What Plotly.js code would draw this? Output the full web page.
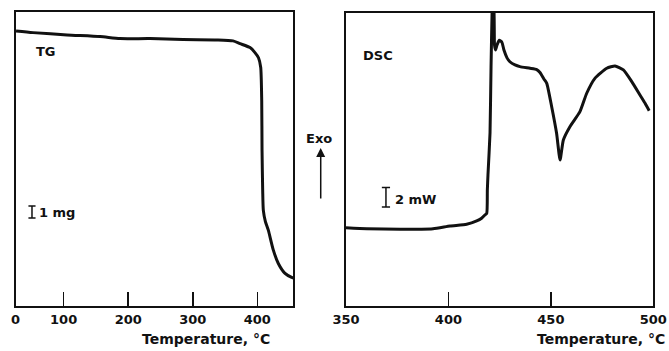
<!DOCTYPE html>
<html>
<head>
<meta charset="utf-8">
<script src="https://cdn.plot.ly/plotly-3.0.1.min.js"></script>
<style>html,body{margin:0;padding:0;background:#fff;}#chart{width:669px;height:351px;}</style>
</head>
<body>
<div id="chart"></div>
<script>
// TG curve: temperature (°C) vs relative mass (mg)
const tgTemp = [26.3, 52.6, 105.3, 156.4, 187.3, 233.8, 284.9, 337.6, 362.3, 373.2, 388.7, 396.0, 401.8, 405.2, 406.8, 407.3, 408.3, 409.3, 412.5, 417.0, 424.8, 432.5, 442.9, 453.2, 456.0];
const tgMass = [23.04, 22.9, 22.71, 22.57, 22.4, 22.4, 22.32, 22.29, 22.21, 21.98, 21.65, 21.25, 20.8, 20.0, 17.21, 13.04, 9.71, 8.04, 7.1, 6.38, 4.71, 3.6, 2.77, 2.43, 2.38];

// DSC curve: temperature (°C) vs heat flow (mW, relative, exo up)
const dscTemp = [350, 360.1, 376.4, 392.5, 400.8, 408.9, 413.8, 416.2, 417.8, 418.7, 419.0, 419.3, 420.3, 420.8, 421.3, 421.5, 422.0, 422.5, 423.0, 423.7, 424.8, 426.1, 427.1, 428.6, 430.0, 432.5, 434.9, 439.8, 443.1, 444.7, 446.6, 448.0, 450.4, 452.8, 454.5, 456.1, 459.3, 464.2, 467.5, 471.5, 477.3, 481.3, 485.4, 489.5, 493.5, 496.0, 498.0];
const dscHeat = [8.08, 7.98, 7.92, 7.98, 8.26, 8.43, 8.77, 9.05, 9.38, 9.56, 11.95, 13.49, 17.79, 24.59, 30.13, 31.4, 31.4, 26.8, 26.3, 26.8, 27.3, 27.1, 26.3, 25.5, 25.1, 24.77, 24.6, 24.43, 24.3, 24.0, 23.33, 22.89, 20.49, 17.76, 15.03, 17.08, 18.44, 19.98, 21.87, 23.4, 24.43, 24.67, 24.26, 23.06, 21.69, 20.84, 20.08];

// Tick labels
const tgTickVals = [25.5, 100, 200, 300, 400];
const tgTickText = ['0', '100', '200', '300', '400'];
const dscTickVals = [350, 400, 450, 500];
const dscTickText = ['350', '400', '450', '500'];

// Scale bars
const tgBarX = 51, tgBarY0 = 7.4, tgBarLen = 1;   // 1 mg
const dscBarX = 369.5, dscBarY0 = 10.2, dscBarLen = 2; // 2 mW

const font = {family: 'DejaVu Sans', color: '#111'};

const traces = [
  {x: tgTemp, y: tgMass, xaxis: 'x', yaxis: 'y', mode: 'lines', line: {color: '#111', width: 3, shape: 'spline', smoothing: 0.6}, hoverinfo: 'skip'},
  {x: dscTemp, y: dscHeat, xaxis: 'x2', yaxis: 'y2', mode: 'lines', line: {color: '#111', width: 3, shape: 'spline', smoothing: 0.5}, hoverinfo: 'skip'}
];

const axBase = {
  showgrid: false, zeroline: false, showline: true, mirror: true,
  linecolor: '#111', linewidth: 1.6, ticks: 'inside', ticklen: 14, tickwidth: 1.5, tickcolor: '#111',
  tickfont: Object.assign({size: 13, weight: 'bold'}, font), tickmode: 'array', fixedrange: true
};
const yBase = {
  showgrid: false, zeroline: false, showline: true, mirror: true,
  linecolor: '#111', linewidth: 1.6, showticklabels: false, ticks: '', fixedrange: true
};

function bar(xref, yref, xc, y0, len, hw) {
  return [
    {type: 'line', xref, yref, x0: xc, x1: xc, y0: y0, y1: y0 + len, line: {color: '#111', width: 1.5}},
    {type: 'line', xref, yref, x0: xc - hw, x1: xc + hw, y0: y0, y1: y0, line: {color: '#111', width: 1.5}},
    {type: 'line', xref, yref, x0: xc - hw, x1: xc + hw, y0: y0 + len, y1: y0 + len, line: {color: '#111', width: 1.5}}
  ];
}

const layout = {
  width: 669, height: 351,
  margin: {l: 0, r: 0, t: 0, b: 0},
  paper_bgcolor: '#fff', plot_bgcolor: '#fff',
  showlegend: false,
  xaxis: Object.assign({}, axBase, {domain: [0.0232, 0.4387], range: [25.5, 456], tickvals: tgTickVals, ticktext: tgTickText, anchor: 'y'}),
  yaxis: Object.assign({}, yBase, {domain: [0.1268, 0.966], range: [0, 24.63], anchor: 'x'}),
  xaxis2: Object.assign({}, axBase, {domain: [0.5172, 0.9765], range: [350, 500], tickvals: dscTickVals, ticktext: dscTickText, anchor: 'y2'}),
  yaxis2: Object.assign({}, yBase, {domain: [0.1268, 0.9638], range: [0, 30.13], anchor: 'x2'}),
  shapes: [].concat(bar('x', 'y', tgBarX, tgBarY0, tgBarLen, 5.5), bar('x2', 'y2', dscBarX, dscBarY0, dscBarLen, 2.0)),
  annotations: [
    {xref: 'paper', yref: 'paper', x: 0.051, y: 0.852, xanchor: 'left', yanchor: 'middle', text: 'TG', showarrow: false, font: Object.assign({size: 13, weight: 'bold'}, font)},
    {xref: 'paper', yref: 'paper', x: 0.0546, y: 0.396, xanchor: 'left', yanchor: 'middle', text: '1 mg', showarrow: false, font: Object.assign({size: 13, weight: 'bold'}, font)},
    {xref: 'paper', yref: 'paper', x: 0.5395, y: 0.843, xanchor: 'left', yanchor: 'middle', text: 'DSC', showarrow: false, font: Object.assign({size: 13, weight: 'bold'}, font)},
    {xref: 'paper', yref: 'paper', x: 0.5874, y: 0.433, xanchor: 'left', yanchor: 'middle', text: '2 mW', showarrow: false, font: Object.assign({size: 13, weight: 'bold'}, font)},
    {xref: 'paper', yref: 'paper', x: 0.4768, y: 0.6068, xanchor: 'center', yanchor: 'middle', text: 'Exo', showarrow: false, font: Object.assign({size: 13, weight: 'bold'}, font)},
    {xref: 'paper', yref: 'paper', x: 0.4794, y: 0.5783, text: '', showarrow: true, ax: 0, ay: 52, arrowhead: 2, arrowsize: 1.2, arrowwidth: 1.5, arrowcolor: '#111'},
    {xref: 'paper', yref: 'paper', x: 0.4066, y: 0.034, xanchor: 'right', yanchor: 'middle', text: 'Temperature, °C', showarrow: false, font: Object.assign({size: 14, weight: 'bold'}, font)},
    {xref: 'paper', yref: 'paper', x: 0.997, y: 0.034, xanchor: 'right', yanchor: 'middle', text: 'Temperature, °C', showarrow: false, font: Object.assign({size: 14, weight: 'bold'}, font)}
  ]
};

Plotly.newPlot('chart', traces, layout, {staticPlot: true, displayModeBar: false});
</script>
</body>
</html>
